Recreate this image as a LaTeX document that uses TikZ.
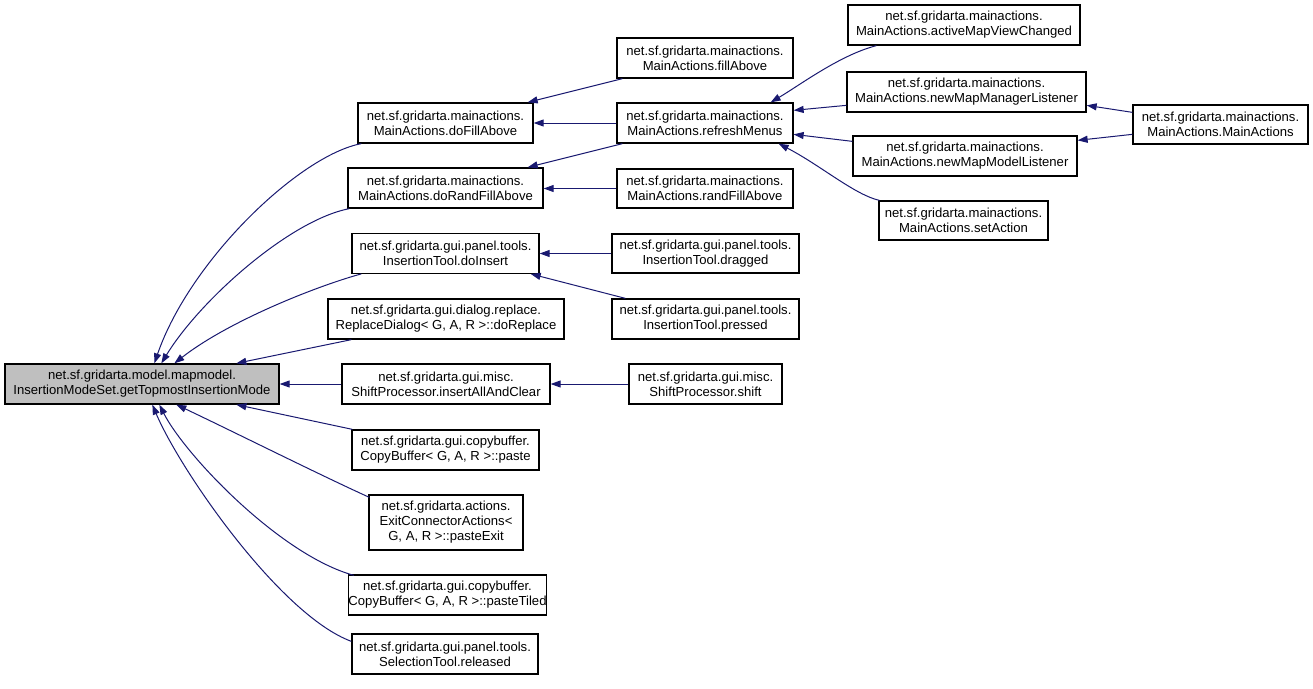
\documentclass[tikz,border=0pt]{standalone}
\usepackage{fontspec}
\setmainfont{Liberation Sans}
\usetikzlibrary{arrows.meta,calc}
\definecolor{edgecol}{HTML}{191970}
\definecolor{rootfill}{HTML}{BFBFBF}
\newcommand{\boxfont}{\fontsize{13.1}{15}\selectfont}
\begin{document}
\begin{tikzpicture}[x=1pt,y=-1pt,
  box/.style={draw=black, line width=1.3pt, inner sep=0pt, align=center, font=\boxfont, fill=white},
  conn/.style={draw=edgecol, line width=1pt, -{Triangle[length=10pt,width=7pt,fill=edgecol]}}]
\useasboundingbox (0,0) rectangle (1313,688);

% column 1
\node[box, fill=rootfill, minimum width=274pt, minimum height=40pt] (root) at (142,384)
  {net.sf.gridarta.model.mapmodel.\\InsertionModeSet.getTopmostInsertionMode};

% column 2
\node[box, minimum width=175pt, minimum height=40pt] (doFill) at (445.5,123)
  {net.sf.gridarta.mainactions.\\MainActions.doFillAbove};
\node[box, minimum width=195pt, minimum height=40pt] (doRand) at (445.5,188)
  {net.sf.gridarta.mainactions.\\MainActions.doRandFillAbove};
\node[box, minimum width=187pt, minimum height=39.5pt] (doInsert) at (445.5,253.5)
  {net.sf.gridarta.gui.panel.tools.\\InsertionTool.doInsert};
\node[box, minimum width=236pt, minimum height=40pt] (doReplace) at (446,319)
  {net.sf.gridarta.gui.dialog.replace.\\ReplaceDialog< G, A, R >::doReplace};
\node[box, minimum width=208pt, minimum height=40pt] (insertAll) at (446,384)
  {net.sf.gridarta.gui.misc.\\ShiftProcessor.insertAllAndClear};
\node[box, minimum width=187pt, minimum height=40pt] (paste) at (445.5,450)
  {net.sf.gridarta.gui.copybuffer.\\CopyBuffer< G, A, R >::paste};
\node[box, minimum width=154pt, minimum height=55pt] (pasteExit) at (446,522.5)
  {net.sf.gridarta.actions.\\ExitConnectorActions<\\ G, A, R >::pasteExit};
\node[box, minimum width=194pt, minimum height=40pt] (pasteTiled) at (447.5,595)
  {net.sf.gridarta.gui.copybuffer.\\CopyBuffer< G, A, R >::pasteTiled};
\node[box, minimum width=186pt, minimum height=40pt] (released) at (445,654)
  {net.sf.gridarta.gui.panel.tools.\\SelectionTool.released};

% column 3
\node[box, minimum width=176pt, minimum height=40pt] (fillAbove) at (705,58)
  {net.sf.gridarta.mainactions.\\MainActions.fillAbove};
\node[box, minimum width=176pt, minimum height=40pt] (refresh) at (705,123)
  {net.sf.gridarta.mainactions.\\MainActions.refreshMenus};
\node[box, minimum width=176pt, minimum height=39pt] (randFill) at (705,188.5)
  {net.sf.gridarta.mainactions.\\MainActions.randFillAbove};
\node[box, minimum width=187pt, minimum height=39pt] (dragged) at (705.5,253.5)
  {net.sf.gridarta.gui.panel.tools.\\InsertionTool.dragged};
\node[box, minimum width=187pt, minimum height=40pt] (pressed) at (705.5,319)
  {net.sf.gridarta.gui.panel.tools.\\InsertionTool.pressed};
\node[box, minimum width=153pt, minimum height=40pt] (shift) at (705.5,384)
  {net.sf.gridarta.gui.misc.\\ShiftProcessor.shift};

% column 4
\node[box, minimum width=232pt, minimum height=40pt] (activeMap) at (964,25)
  {net.sf.gridarta.mainactions.\\MainActions.activeMapViewChanged};
\node[box, minimum width=239pt, minimum height=40pt] (newMgr) at (966.5,92)
  {net.sf.gridarta.mainactions.\\MainActions.newMapManagerListener};
\node[box, minimum width=224pt, minimum height=40pt] (newModel) at (965,156)
  {net.sf.gridarta.mainactions.\\MainActions.newMapModelListener};
\node[box, minimum width=169pt, minimum height=39pt] (setAction) at (963.5,220.5)
  {net.sf.gridarta.mainactions.\\MainActions.setAction};

% column 5
\node[box, minimum width=175pt, minimum height=39pt] (mainAct) at (1220.5,124.5)
  {net.sf.gridarta.mainactions.\\MainActions.MainActions};

% edges into root
\draw[conn] ($(doFill.south west)+(4,0)$) .. controls (300,155) and (190,260) .. ($(root.north west)+(150,0)$);
\draw[conn] ($(doRand.south west)+(2,0)$) .. controls (290,220) and (200,300) .. ($(root.north west)+(157,0)$);
\draw[conn] ($(doInsert.south west)+(10,0)$) .. controls (320,285) and (230,320) .. ($(root.north west)+(170,0)$);
\draw[conn] ($(doReplace.south west)+(24,0)$) -- ($(root.north west)+(232,0)$);
\draw[conn] (insertAll.west) -- (root.east);
\draw[conn] ($(paste.north west)+(1,0)$) -- ($(root.south west)+(232,0)$);
\draw[conn] ($(pasteExit.north west)+(1,3)$) .. controls (320,475) and (230,430) .. ($(root.south west)+(172,0)$);
\draw[conn] ($(pasteTiled.north west)+(6,1)$) .. controls (280,555) and (185,455) .. ($(root.south west)+(155,0)$);
\draw[conn] ($(released.north west)+(0,8)$) .. controls (280,615) and (180,470) .. ($(root.south west)+(148,0)$);

% column 3 -> column 2
\draw[conn] ($(fillAbove.south west)+(6,0)$) -- ($(doFill.north east)+(-6,0)$);
\draw[conn] (refresh.west) -- (doFill.east);
\draw[conn] ($(refresh.south west)+(6,0)$) -- ($(doRand.north east)+(-16,0)$);
\draw[conn] (randFill.west) -- (randFill.west -| doRand.east);
\draw[conn] (dragged.west) -- (dragged.west -| doInsert.east);
\draw[conn] ($(pressed.north west)+(14,0)$) -- ($(doInsert.south east)+(-9,0)$);
\draw[conn] (shift.west) -- (insertAll.east);

% column 4 -> refreshMenus
\draw[conn] ($(activeMap.south west)+(29,0)$) .. controls (840,55) and (800,85) .. ($(refresh.north east)+(-23,0)$);
\draw[conn] ($(newMgr.north west)+(0,34)$) -- ($(refresh.north east)+(0,8)$);
\draw[conn] ($(newModel.north west)+(0,6)$) -- ($(refresh.north east)+(0,32)$);
\draw[conn] ($(setAction.north west)+(1,0)$) .. controls (855,195) and (820,165) .. ($(refresh.south east)+(-15,0)$);

% column 5 -> column 4
\draw[conn] ($(mainAct.north west)+(0,8)$) -- ($(newMgr.north east)+(0,34)$);
\draw[conn] ($(mainAct.north west)+(0,30)$) -- ($(newModel.north east)+(0,5)$);
\end{tikzpicture}
\end{document}
